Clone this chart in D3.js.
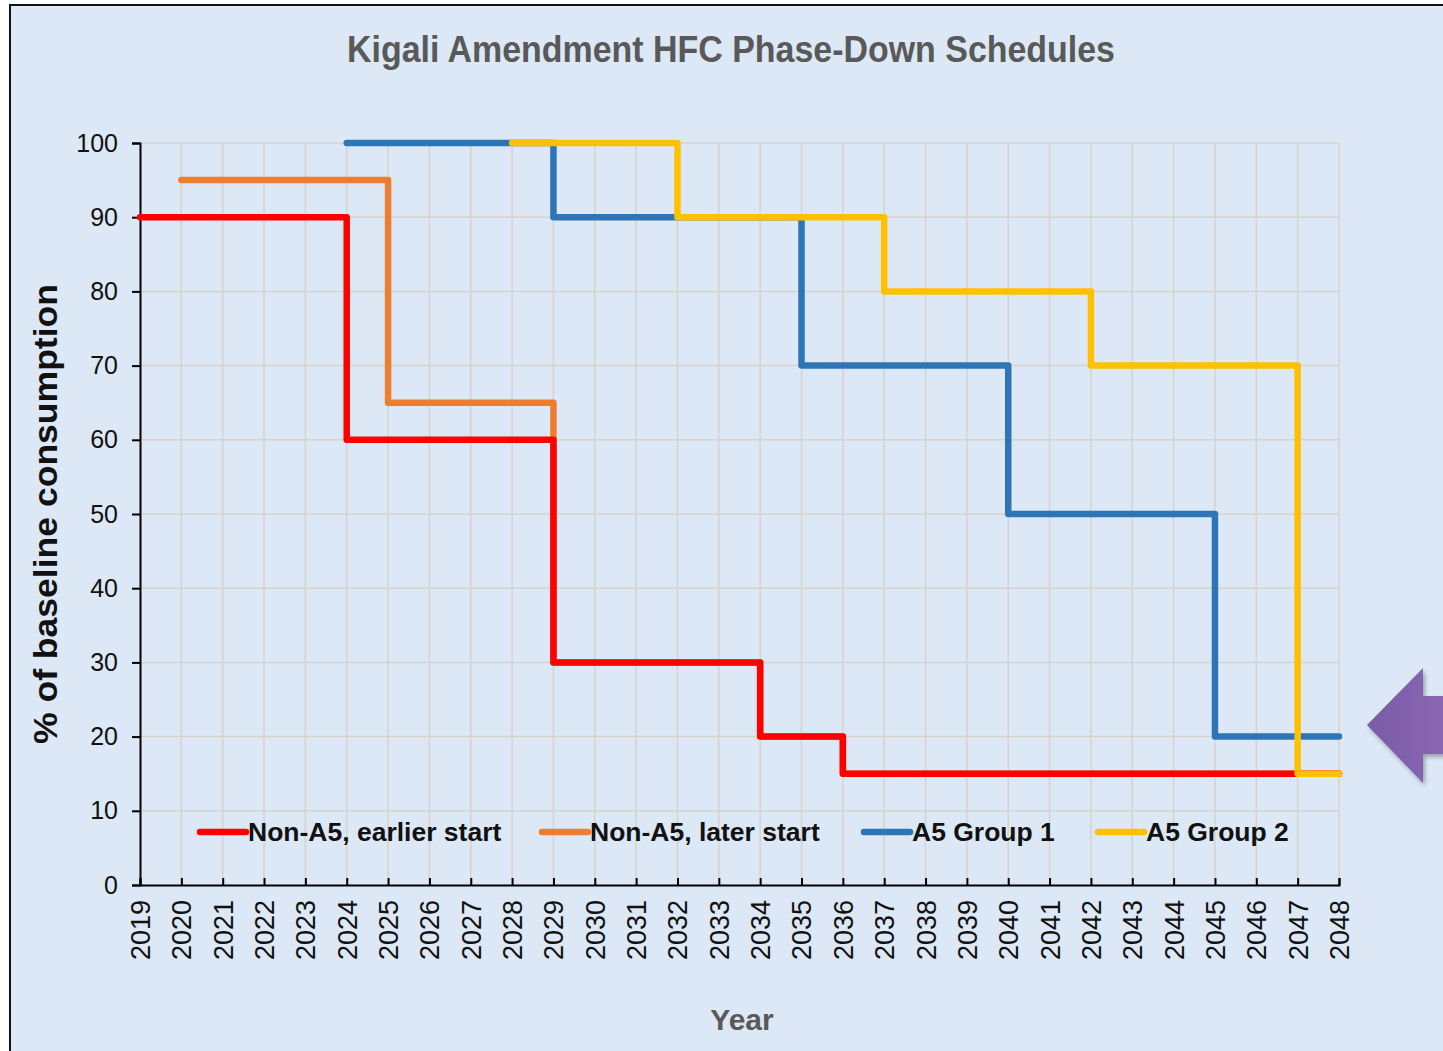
<!DOCTYPE html>
<html>
<head>
<meta charset="utf-8">
<script src="https://cdn.jsdelivr.net/npm/d3@7"></script>
<style>
  body { margin: 0; background: #fff; }
  text { font-family: Arial, "Liberation Sans", sans-serif; }
</style>
</head>
<body>
<div id="chart"></div>
<script>
// step schedules, % of baseline consumption by year
const years = d3.range(2019, 2049)
const yTicks = [0, 10, 20, 30, 40, 50, 60, 70, 80, 90, 100]

const redYears = [2019, 2024, 2029, 2034, 2036, 2048]
const redVals = [90, 60, 30, 20, 15, 15]
const orangeYears = [2020, 2025, 2029, 2034, 2036, 2048]
const orangeVals = [95, 65, 30, 20, 15, 15]
const blueYears = [2024, 2029, 2035, 2040, 2045, 2048]
const blueVals = [100, 90, 70, 50, 20, 20]
const yellowYears = [2028, 2032, 2037, 2042, 2047, 2048]
const yellowVals = [100, 90, 80, 70, 15, 15]

const seriesNames = ['Non-A5, earlier start', 'Non-A5, later start', 'A5 Group 1', 'A5 Group 2']
const seriesColors = ['#ff0000', '#ed7d31', '#2e75b6', '#ffc000']

const W = 1443, H = 1051
const svg = d3.select('#chart').append('svg')
    .attr('width', W)
    .attr('height', H)

// panel background + frame
svg.append('rect')
    .attr('x', 10).attr('y', 5)
    .attr('width', W).attr('height', H)
    .attr('fill', '#dce8f5')
    .attr('stroke', '#111')
    .attr('stroke-width', 2)

const x = d3.scaleLinear().domain([2019, 2048]).range([140, 1339])
const y = d3.scaleLinear().domain([0, 100]).range([885, 143])

// gridlines
svg.append('g').selectAll('line').data(years.slice(1)).join('line')
    .attr('x1', d => x(d)).attr('x2', d => x(d))
    .attr('y1', y(0)).attr('y2', y(100))
    .attr('stroke', '#d8d2cc').attr('stroke-width', 1.5)
svg.append('g').selectAll('line').data(yTicks.slice(1)).join('line')
    .attr('x1', x(2019)).attr('x2', x(2048))
    .attr('y1', d => y(d)).attr('y2', d => y(d))
    .attr('stroke', '#d8d2cc').attr('stroke-width', 1.5)

// axes
const yAxis = svg.append('g')
    .attr('transform', `translate(${x(2019)},0)`)
    .call(d3.axisLeft(y).tickValues(yTicks).tickSize(8).tickPadding(14))
yAxis.select('.domain').attr('stroke', '#000').attr('stroke-width', 2)
yAxis.selectAll('.tick line').attr('stroke', '#000').attr('stroke-width', 2)
yAxis.selectAll('.tick text')
    .attr('font-size', 25).attr('fill', '#111')
    .attr('font-family', 'Arial, "Liberation Sans", sans-serif')

const xAxis = svg.append('g')
    .attr('transform', `translate(0,${y(0)})`)
    .call(d3.axisBottom(x).tickValues(years).tickFormat(d3.format('d')).tickSize(-7).tickPadding(0))
xAxis.select('.domain').attr('stroke', '#000').attr('stroke-width', 2)
xAxis.selectAll('.tick line').attr('stroke', '#000').attr('stroke-width', 2)
xAxis.selectAll('.tick text')
    .attr('font-size', 27).attr('fill', '#111')
    .attr('font-family', 'Arial, "Liberation Sans", sans-serif')
    .attr('text-anchor', 'end')
    .attr('dy', '0.35em')
    .attr('transform', 'translate(0,15) rotate(-90)')

// step lines
const line = d3.line()
    .x(d => x(d[0]))
    .y(d => y(d[1]))
    .curve(d3.curveStepAfter)

const series = [
    d3.zip(orangeYears, orangeVals),
    d3.zip(redYears, redVals),
    d3.zip(blueYears, blueVals),
    d3.zip(yellowYears, yellowVals)
]
const order = [1, 0, 2, 3]
series.forEach((s, i) => {
    svg.append('path')
        .datum(s)
        .attr('d', line)
        .attr('fill', 'none')
        .attr('stroke', seriesColors[order[i]])
        .attr('stroke-width', 6.5)
        .attr('stroke-linecap', 'round')
        .attr('stroke-linejoin', 'round')
})

// legend
const legendX = [200, 542, 864, 1098]
const leg = svg.append('g')
seriesNames.forEach((n, i) => {
    leg.append('line')
        .attr('x1', legendX[i]).attr('x2', legendX[i] + 46)
        .attr('y1', 832).attr('y2', 832)
        .attr('stroke', seriesColors[i])
        .attr('stroke-width', 6.5)
        .attr('stroke-linecap', 'round')
    leg.append('text')
        .attr('x', legendX[i] + 48).attr('y', 841)
        .attr('font-size', 26.5).attr('font-weight', 'bold')
        .attr('fill', '#111')
        .text(n)
})

// titles
svg.append('text')
    .attr('x', 731).attr('y', 62)
    .attr('text-anchor', 'middle')
    .attr('font-family', 'Lato, sans-serif')
    .attr('font-size', 36).attr('font-weight', 'bold')
    .attr('fill', '#595959')
    .attr('textLength', 768)
    .attr('lengthAdjust', 'spacingAndGlyphs')
    .text('Kigali Amendment HFC Phase-Down Schedules')

svg.append('text')
    .attr('transform', 'translate(57,514) rotate(-90)')
    .attr('text-anchor', 'middle')
    .attr('font-family', 'Lato, sans-serif')
    .attr('font-size', 34).attr('font-weight', 'bold')
    .attr('fill', '#111')
    .attr('textLength', 460)
    .attr('lengthAdjust', 'spacingAndGlyphs')
    .text('% of baseline consumption')

svg.append('text')
    .attr('x', 742).attr('y', 1030)
    .attr('text-anchor', 'middle')
    .attr('font-family', 'Lato, sans-serif')
    .attr('font-size', 30).attr('font-weight', 'bold')
    .attr('fill', '#595959')
    .text('Year')

// purple arrow pointing at the chart
const defs = svg.append('defs')
const grad = defs.append('linearGradient').attr('id', 'arrowGrad')
grad.append('stop').attr('offset', '0%').attr('stop-color', '#7a5aa5')
grad.append('stop').attr('offset', '100%').attr('stop-color', '#8a68b5')
const f = defs.append('filter').attr('id', 'shadow')
f.append('feDropShadow').attr('dx', 2).attr('dy', 3).attr('stdDeviation', 2)
    .attr('flood-color', '#000').attr('flood-opacity', 0.3)
svg.append('path')
    .attr('d', 'M1367,725 L1423,668 L1423,696 L1450,696 L1450,754 L1423,754 L1423,783 Z')
    .attr('fill', 'url(#arrowGrad)')
    .attr('filter', 'url(#shadow)')
</script>
</body>
</html>
